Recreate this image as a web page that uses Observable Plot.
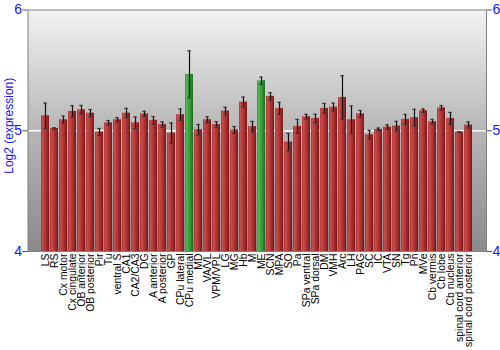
<!DOCTYPE html>
<html><head><meta charset="utf-8">
<script src="https://cdn.jsdelivr.net/npm/d3@7"></script>
<script src="https://cdn.jsdelivr.net/npm/@observablehq/plot@0.6"></script>
<style>body{margin:0;background:#fff}</style>
</head><body><div id="chart"></div>
<script>
const regions = ["LS","RS","Cx motor","Cx cingulate","OB anterior","OB posterior","Pir","Tu","ventral S","CA1","CA2/CA3","DG","A anterior","A posterior","GP","CPu lateral","CPu medial","MD","VA/VL","VPM/VPL","LG","MG","Hb","M","ME","SCN","MPA","SO","Pa","SPa ventral","SPa dorsal","DM","VMH","Arc","LH","PAG","SC","IC","VTA","SN","Tg","Pn","MVe","Cb vermis","Cb lobe","Cb nucleus","spinal cord anterior","spinal cord posterior"];
const values = [5.124,5.019,5.091,5.160,5.174,5.146,4.990,5.066,5.091,5.146,5.066,5.140,5.086,5.052,4.980,5.133,5.467,5.008,5.091,5.052,5.163,5.006,5.238,5.034,5.414,5.285,5.185,4.906,5.036,5.116,5.102,5.185,5.196,5.276,5.091,5.140,4.967,5.011,5.030,5.039,5.094,5.108,5.166,5.075,5.190,5.102,4.990,5.047];
const errors = [0.105,0.006,0.030,0.048,0.036,0.030,0.029,0.019,0.017,0.039,0.048,0.021,0.032,0.022,0.084,0.048,0.195,0.044,0.024,0.023,0.031,0.029,0.041,0.043,0.030,0.030,0.050,0.072,0.058,0.020,0.035,0.041,0.033,0.180,0.115,0.028,0.036,0.011,0.019,0.039,0.041,0.070,0.014,0.019,0.019,0.050,0.003,0.025];
const highlighted = ["CPu medial","ME"];
const yTicks = [4,5,6];

const data = regions.map((r,i)=>({region:r, value:values[i], err:errors[i], hi:highlighted.includes(r)}));
const blue = "#1414ff";

const chart = Plot.plot({
  width:500, height:350,
  marginTop:9.5, marginBottom:99, marginLeft:27.5, marginRight:14,
  style:{fontFamily:"'Liberation Sans', Arial, sans-serif", background:"white"},
  x:{domain:regions, padding:0.15, label:null},
  y:{domain:[4,6], label:null},
  marks:[
    Plot.frame({fill:"url(#bgGrad)", stroke:null}),
    Plot.ruleY([5],{stroke:"white", strokeWidth:1.5}),
    Plot.barY(data.filter(d=>!d.hi),{x:"region", y1:4, y2:"value", fill:"url(#redGrad)"}),
    Plot.barY(data.filter(d=>d.hi),{x:"region", y1:4, y2:"value", fill:"url(#greenGrad)"}),
    Plot.ruleX(data,{x:"region", y1:d=>d.value-d.err, y2:d=>d.value+d.err, stroke:"#111", strokeWidth:1.2}),
    Plot.tickY(data,{x:"region", y:d=>d.value-d.err, stroke:"#333", insetLeft:2.3, insetRight:2.3, strokeWidth:1.2}),
    Plot.tickY(data,{x:"region", y:d=>d.value+d.err, stroke:"#333", insetLeft:2.3, insetRight:2.3, strokeWidth:1.2}),
    Plot.frame({stroke:"#808080"}),
    Plot.axisX({tickRotate:-90, tickSize:0, tickPadding:2, fontSize:10.4, fill:"black", label:null}),
    Plot.axisY({anchor:"left", ticks:yTicks, tickFormat:"d", tickSize:5, stroke:"#555", fill:blue, fontSize:14, tickPadding:1, label:null}),
    Plot.axisY({anchor:"right", ticks:yTicks, tickFormat:"d", tickSize:5, stroke:"#555", fill:blue, fontSize:14, tickPadding:1, label:null}),
    Plot.text(["Log2 (expression)"],{frameAnchor:"left", textAnchor:"middle", dx:-19, dy:-5, rotate:-90, fill:blue, fontSize:12})
  ]
});

const svg = d3.select(chart);
const defs = svg.insert("defs", ":first-child");
const bg = defs.append("linearGradient").attr("id","bgGrad").attr("x1",0).attr("y1",0).attr("x2",0).attr("y2",1);
bg.append("stop").attr("offset","0%").attr("stop-color","#f3f3f3");
bg.append("stop").attr("offset","50%").attr("stop-color","#b6b6b6");
bg.append("stop").attr("offset","100%").attr("stop-color","#8a8a8a");
const red = defs.append("linearGradient").attr("id","redGrad").attr("x1",0).attr("y1",0).attr("x2",1).attr("y2",0);
red.append("stop").attr("offset","0%").attr("stop-color","#a83030");
red.append("stop").attr("offset","15%").attr("stop-color","#c84e4e");
red.append("stop").attr("offset","55%").attr("stop-color","#b23434");
red.append("stop").attr("offset","100%").attr("stop-color","#7a1818");
const green = defs.append("linearGradient").attr("id","greenGrad").attr("x1",0).attr("y1",0).attr("x2",1).attr("y2",0);
green.append("stop").attr("offset","0%").attr("stop-color","#35923a");
green.append("stop").attr("offset","15%").attr("stop-color","#52b852");
green.append("stop").attr("offset","55%").attr("stop-color","#3a9e3a");
green.append("stop").attr("offset","100%").attr("stop-color","#1f6e22");

document.getElementById("chart").appendChild(chart);
</script>
</body></html>
